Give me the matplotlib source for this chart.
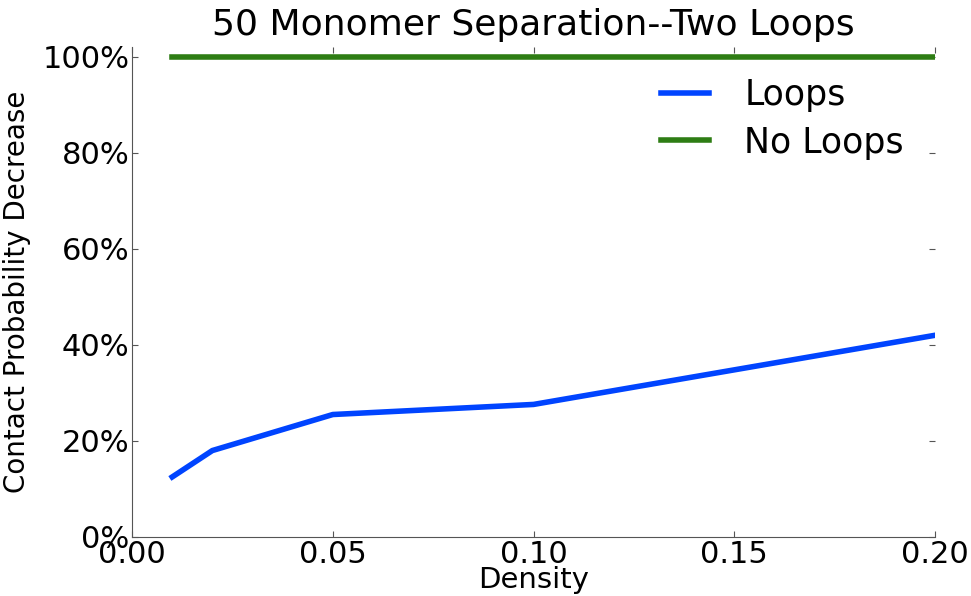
import numpy as np
import matplotlib
matplotlib.use('Agg')
from matplotlib import pyplot as plt
from matplotlib.ticker import PercentFormatter

density = [0.01, 0.02, 0.05, 0.10, 0.20]
loops = [0.125, 0.18, 0.255, 0.276, 0.42]
no_loops = [1.0, 1.0, 1.0, 1.0, 1.0]

fig = plt.figure(figsize=(9.71, 5.96), dpi=100)
ax = fig.add_axes([0.136, 0.099, 0.827, 0.822])
ax.plot(density, loops, color='#0044ff', lw=4, label='Loops')
ax.plot(density, no_loops, color='#2e7d14', lw=4, label='No Loops')

ax.set_xlim(0, 0.2)
ax.set_ylim(0, 1.02)
ax.set_xticks([0, 0.05, 0.10, 0.15, 0.20])
ax.set_yticks([0, 0.2, 0.4, 0.6, 0.8, 1.0])
ax.yaxis.set_major_formatter(PercentFormatter(1.0, decimals=0))
ax.spines['top'].set_visible(False)
ax.spines['right'].set_visible(False)
for s in ['left', 'bottom']:
    ax.spines[s].set_color('#555555')
ax.tick_params(direction='in', length=4, width=0.8, colors='#555555',
               labelcolor='black', labelsize=22, top=True, right=True, pad=2)

ax.set_xlabel('Density', fontsize=21, labelpad=-2)
ax.set_ylabel('Contact Probability Decrease', fontsize=20, labelpad=8)
ax.set_title('50 Monomer Separation--Two Loops', fontsize=26, pad=9)
ax.legend(frameon=False, fontsize=25, loc='upper right', handlelength=1.4,
          handletextpad=1.0, labelspacing=0.38, bbox_to_anchor=(1.0, 1.0))

fig.savefig('out.png')
